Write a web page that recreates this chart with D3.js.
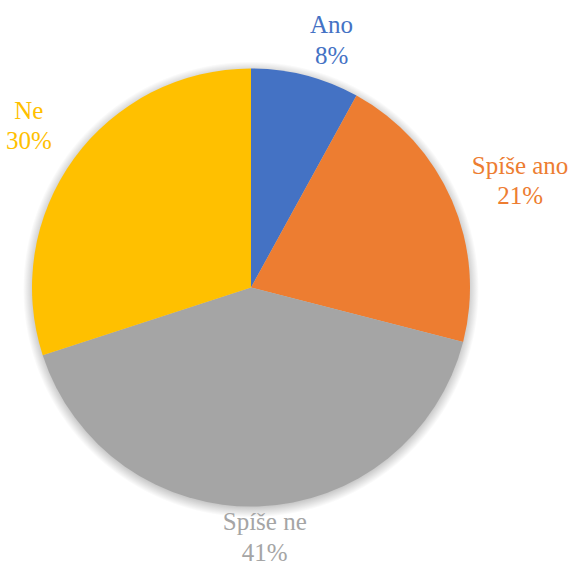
<!DOCTYPE html>
<html>
<head>
<meta charset="utf-8">
<script src="https://cdn.jsdelivr.net/npm/d3@7"></script>
<style>
  html, body { margin: 0; padding: 0; overflow: hidden; background: #ffffff; }
  svg { display: block; }
  svg text.lbl { font-family: "Liberation Serif", "Times New Roman", Tinos, serif !important; font-size: 25px !important; }
</style>
</head>
<body>
<svg id="chart" width="575" height="561"></svg>
<script>
// Survey answers and their shares (percent)
const categories = ["Ano", "Spíše ano", "Spíše ne", "Ne"];
const values = [8, 21, 41, 30];
const colors = ["#4472C4", "#ED7D31", "#A5A5A5", "#FFC000"];
const labelTexts = ["8%", "21%", "41%", "30%"];

const svg = d3.select("#chart");
const cx = 251, cy = 287.5, radius = 219;
const serifStack = '"Liberation Serif", "Times New Roman", Tinos, serif';

const data = categories.map((c, i) => ({ name: c, value: values[i], color: colors[i], pct: labelTexts[i] }));

const pie = d3.pie().value(d => d.value).sort(null);
const arcs = pie(data);
const arc = d3.arc().innerRadius(0).outerRadius(radius);
const labelArc = d3.arc().innerRadius(radius * 1.13).outerRadius(radius * 1.13);

// soft halo under the pie, drawn as a radial fade
const defs = svg.append("defs");
const haloR = radius + 9;
const grad = defs.append("radialGradient").attr("id", "halo")
  .attr("gradientUnits", "userSpaceOnUse")
  .attr("cx", 0).attr("cy", 2).attr("r", haloR);
grad.append("stop").attr("offset", (radius - 2) / haloR).attr("stop-color", "#000").attr("stop-opacity", 0.22);
grad.append("stop").attr("offset", 1).attr("stop-color", "#000").attr("stop-opacity", 0);

const g = svg.append("g").attr("transform", `translate(${cx},${cy})`);
g.append("circle").attr("cx", 0).attr("cy", 2).attr("r", haloR).attr("fill", "url(#halo)");

g.append("g")
  .selectAll("path")
  .data(arcs)
  .join("path")
  .attr("d", arc)
  .attr("fill", d => d.data.color);

// Outside labels: category name above percentage, placed along each slice's mid-angle
const offsets = [
  { dx: 19, dy: -12 },
  { dx: 42, dy: -13 },
  { dx: 6, dy: -2 },
  { dx: -22, dy: -21 }
];

arcs.forEach((d, i) => {
  const [x, y] = labelArc.centroid(d);
  const lx = cx + x + offsets[i].dx;
  const ly = cy + y + offsets[i].dy - 2.5;
  [d.data.name, d.data.pct].forEach((txt, k) => {
    svg.append("text")
      .attr("class", "lbl")
      .attr("x", lx).attr("y", ly + k * 30.5)
      .attr("text-anchor", "middle")
      .attr("font-family", serifStack)
      .attr("font-size", 25)
      .style("font-family", serifStack, "important")
      .style("font-size", "25px", "important")
      .style("fill", d.data.color)
      .text(txt);
  });
});
</script>
</body>
</html>
